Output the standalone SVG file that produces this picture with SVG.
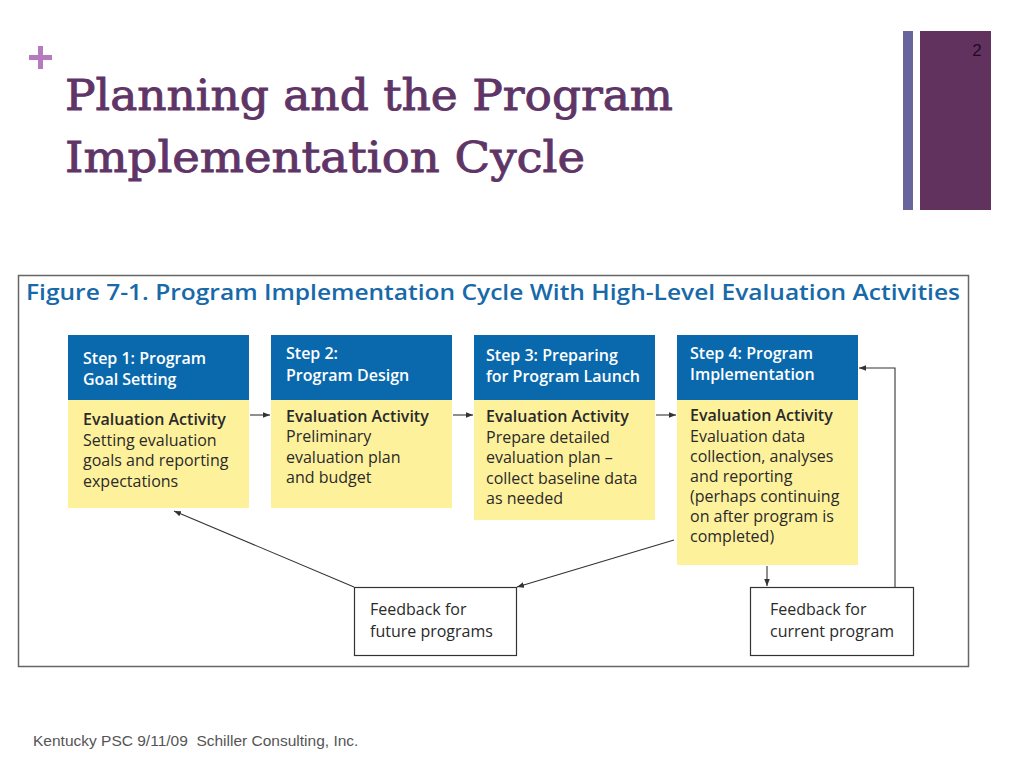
<svg xmlns="http://www.w3.org/2000/svg" width="1024" height="768" viewBox="0 0 1024 768">
<defs>
<marker id="ah" viewBox="0 0 10 10" refX="10" refY="5" markerWidth="7" markerHeight="7" markerUnits="userSpaceOnUse" orient="auto">
<path d="M0,1 L10,5 L0,9 z" fill="#333"/>
</marker>
</defs>
<style>
.title{font-family:"DejaVu Serif","Liberation Serif",serif;font-size:43px;fill:#5f3466;stroke:#5f3466;stroke-width:0.9}
.fig{font-family:"Open Sans","Noto Sans",sans-serif;font-weight:600;font-size:21px;fill:#1769a9}
.blue{fill:#0a69ad}
.yel{fill:#fef19c}
.hd{font-family:"Open Sans","Noto Sans",sans-serif;font-weight:600;font-size:16px;fill:#fff}
.bt{font-family:"Open Sans","Noto Sans",sans-serif;font-size:16px;fill:#2a2a2a}
.bb{font-family:"Open Sans","Noto Sans",sans-serif;font-weight:600;font-size:16px;fill:#2a2a2a}
.fb{fill:#fff;stroke:#333;stroke-width:1.2}
.ft{font-family:"Liberation Sans Narrow","Open Sans","Noto Sans",sans-serif;font-size:16px;fill:#2a2a2a}
.con{fill:none;stroke:#333;stroke-width:1.1;marker-end:url(#ah)}
.foot{font-family:"Liberation Sans",Arial,sans-serif;font-size:15.5px;fill:#555;white-space:pre}
</style>
<rect width="1024" height="768" fill="#fff"/>
<g id="plus"><rect x="29" y="55" width="23" height="5" fill="#b67bbf"/><rect x="38" y="46" width="5" height="23" fill="#b67bbf"/></g>
<g id="title">
<text class="title" x="65" y="110" textLength="608" lengthAdjust="spacingAndGlyphs">Planning and the Program</text>
<text class="title" x="65" y="172" textLength="520" lengthAdjust="spacingAndGlyphs">Implementation Cycle</text>
</g>
<g id="bars">
<rect x="903" y="31" width="10" height="179" fill="#67659b"/>
<rect x="920" y="31" width="71" height="179" fill="#62325f"/>
<text x="977" y="56" font-family="Liberation Sans,Arial,sans-serif" font-size="17" fill="#1e0c1e" text-anchor="middle">2</text>
</g>
<g id="frame">
<rect x="18.5" y="275.5" width="950" height="391" fill="#fff" stroke="#666" stroke-width="1.5"/>
<text class="fig" x="26" y="300" textLength="934" lengthAdjust="spacingAndGlyphs">Figure 7-1. Program Implementation Cycle With High-Level Evaluation Activities</text>
</g>
<g id="step1">
<rect class="blue" x="68" y="335" width="181" height="65"/>
<rect class="yel" x="68" y="400" width="181" height="108"/>
<text class="hd" x="83" y="364">Step 1: Program</text>
<text class="hd" x="83" y="385">Goal Setting</text>
<text class="bb" x="83" y="425">Evaluation Activity</text>
<text class="bt" x="83" y="446">Setting evaluation</text>
<text class="bt" x="83" y="466">goals and reporting</text>
<text class="bt" x="83" y="487">expectations</text>
</g>
<g id="step2">
<rect class="blue" x="271" y="335" width="181" height="65"/>
<rect class="yel" x="271" y="400" width="181" height="108"/>
<text class="hd" x="286" y="359">Step 2:</text>
<text class="hd" x="286" y="381">Program Design</text>
<text class="bb" x="286" y="422">Evaluation Activity</text>
<text class="bt" x="286" y="442">Preliminary</text>
<text class="bt" x="286" y="463">evaluation plan</text>
<text class="bt" x="286" y="483">and budget</text>
</g>
<g id="step3">
<rect class="blue" x="474" y="335" width="181" height="65"/>
<rect class="yel" x="474" y="400" width="181" height="120"/>
<text class="hd" x="486" y="361">Step 3: Preparing</text>
<text class="hd" x="486" y="382">for Program Launch</text>
<text class="bb" x="486" y="422">Evaluation Activity</text>
<text class="bt" x="486" y="443">Prepare detailed</text>
<text class="bt" x="486" y="463">evaluation plan –</text>
<text class="bt" x="486" y="484">collect baseline data</text>
<text class="bt" x="486" y="504">as needed</text>
</g>
<g id="step4">
<rect class="blue" x="677" y="335" width="181" height="65"/>
<rect class="yel" x="677" y="400" width="181" height="165"/>
<text class="hd" x="690" y="359">Step 4: Program</text>
<text class="hd" x="690" y="380">Implementation</text>
<text class="bb" x="690" y="421">Evaluation Activity</text>
<text class="bt" x="690" y="442">Evaluation data</text>
<text class="bt" x="690" y="462">collection, analyses</text>
<text class="bt" x="690" y="482">and reporting</text>
<text class="bt" x="690" y="502">(perhaps continuing</text>
<text class="bt" x="690" y="522">on after program is</text>
<text class="bt" x="690" y="542">completed)</text>
</g>
<g id="fb-future">
<rect class="fb" x="354.5" y="587.5" width="162" height="68"/>
<text class="ft" x="370" y="615">Feedback for</text>
<text class="ft" x="370" y="637">future programs</text>
</g>
<g id="fb-current">
<rect class="fb" x="750.5" y="587.5" width="163" height="68"/>
<text class="ft" x="770" y="615">Feedback for</text>
<text class="ft" x="770" y="637">current program</text>
</g>
<g id="connectors">
<line class="con" x1="250" y1="415" x2="270" y2="415"/>
<line class="con" x1="453" y1="415" x2="473" y2="415"/>
<line class="con" x1="656" y1="415" x2="676" y2="415"/>
<line class="con" x1="767" y1="566" x2="767" y2="586"/>
<polyline class="con" points="895,587 895,368 859,368"/>
<line class="con" x1="674" y1="540" x2="517" y2="587"/>
<line class="con" x1="354" y1="587" x2="174" y2="511"/>
</g>
<text class="foot" x="33" y="746" xml:space="preserve">Kentucky PSC 9/11/09  Schiller Consulting, Inc.</text>
</svg>
